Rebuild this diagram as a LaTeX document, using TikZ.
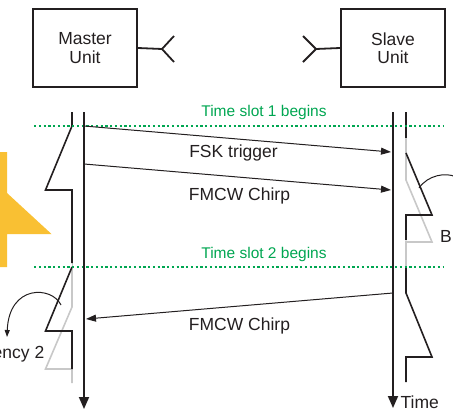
\documentclass[tikz,border=0pt]{standalone}
\usepackage{fontspec}
\setmainfont{Liberation Sans}
\usetikzlibrary{arrows.meta}
\definecolor{slotgreen}{RGB}{0,166,81}
\definecolor{warnyellow}{RGB}{249,192,51}
\definecolor{rxgray}{RGB}{200,200,200}
\definecolor{ink}{RGB}{35,31,32}
\tikzset{
  unitbox/.style={draw=ink, line width=2.2pt, minimum width=104pt, minimum height=78pt, align=center, inner sep=0pt, font=\fontsize{17.5}{18.3}\selectfont, text=ink},
  antenna/.style={draw=ink, line width=1.8pt},
  lifeline/.style={draw=ink, line width=1.8pt, -{Triangle[length=12pt,width=10pt]}},
  txline/.style={draw=ink, line width=1.6pt},
  rxline/.style={draw=rxgray, line width=1.6pt},
  msg/.style={draw=ink, line width=1pt, -{Triangle[length=10pt,width=7pt]}},
  slotline/.style={draw=slotgreen, line width=2.2pt, dash pattern=on 2.3pt off 2.45pt},
  slotlabel/.style={text=slotgreen, font=\fontsize{15.5}{16}\selectfont, inner sep=0pt, anchor=base},
  lbl/.style={text=ink, font=\fontsize{17.5}{18.3}\selectfont, inner sep=0pt, anchor=base},
  curvearrow/.style={draw=ink, line width=1pt, -{Triangle[length=7pt,width=5pt]}}
}
\begin{document}
\begin{tikzpicture}[x=1pt,y=-1pt]
\useasboundingbox (0,0) rectangle (453,416);
% yellow shape at the left edge
\fill[warnyellow] (-2,152) -- (7,152) -- (7,193) -- (51.5,234) -- (7,234) -- (7,267) -- (-2,267) -- cycle;
% units
\node[unitbox] (master) at (85,48) {Master\\Unit};
\node[unitbox] (slave) at (393,48) {Slave\\Unit};
% antennas
\coordinate (ma) at (162,49);
\coordinate (sa) at (316,49);
\draw[antenna] (master.east) -- (ma);
\draw[antenna] (174,36) -- (ma) -- (174,62);
\draw[antenna] (slave.west) -- (sa);
\draw[antenna] (303,36) -- (sa) -- (303,62);
% time slot lines
\coordinate (s1a) at (34,126); \coordinate (s1b) at (444,126);
\coordinate (s2a) at (34,267); \coordinate (s2b) at (444,267);
\node[slotlabel] (slot1) at (264,116.7) {Time slot 1 begins};
\node[slotlabel] (slot2) at (264,258) {Time slot 2 begins};
% master chirp lines
\draw[rxline] (72.5,250) -- (72.5,267);
\draw[txline] (72,112) -- (72,126) -- (45.5,190) -- (72,190) -- (72,263);
\draw[rxline] (72,267) -- (72,307) -- (45.5,369) -- (72,369) -- (72,383);
\draw[txline] (72,267) -- (45.5,331) -- (72,331) -- (72,369);
% slave chirp lines
\draw[txline] (406,112) -- (406,138);
\draw[rxline] (406,138) -- (406,180) -- (432,242) -- (406,242) -- (406,267);
\draw[txline] (406,153) -- (432,215) -- (406,215) -- (406,240);
\draw[txline] (406,267) -- (406,293) -- (432,357) -- (406,357) -- (406,382);
% slot lines over the chirps
\draw[slotline] (s1a) -- (s1b);
\draw[slotline] (s2a) -- (s2b);
% lifelines
\coordinate (mtop) at (84,112); \coordinate (mbot) at (84,409);
\coordinate (stop) at (393,112); \coordinate (sbot) at (393,408);
\draw[lifeline] (mtop) -- (mbot);
\draw[lifeline] (stop) -- (sbot);
% messages
\coordinate (mfsk) at (84,126); \coordinate (sfsk) at (391,152);
\coordinate (mch1) at (84,164); \coordinate (sch1) at (391,190);
\coordinate (sch2) at (393,293); \coordinate (mch2) at (86,319);
\draw[msg] (mfsk) -- (sfsk);
\draw[msg] (mch1) -- (sch1);
\draw[msg] (sch2) -- (mch2);
\node[lbl] (fsk) at (233.5,157.3) {FSK trigger};
\node[lbl] (chirp1) at (239.5,200.3) {FMCW Chirp};
\node[lbl] (chirp2) at (239.5,330.7) {FMCW Chirp};
% beat frequency pointers
\coordinate (bf2a) at (61,305); \coordinate (bf2b) at (7,337);
\draw[curvearrow] (bf2a) .. controls (52,286) and (9,284) .. (bf2b);
\coordinate (bf1a) at (419,188); \coordinate (bf1b) at (462,180);
\draw[curvearrow] (bf1a) .. controls (428,175) and (446,172) .. (bf1b);
\node[lbl, anchor=base east] (bf2) at (44.5,358.3) {ency 2};
\node[lbl, anchor=base west] (bf1) at (440,242.7) {B};
\node[lbl, anchor=base west] (time) at (400.5,408.3) {Time};
\end{tikzpicture}
\end{document}
